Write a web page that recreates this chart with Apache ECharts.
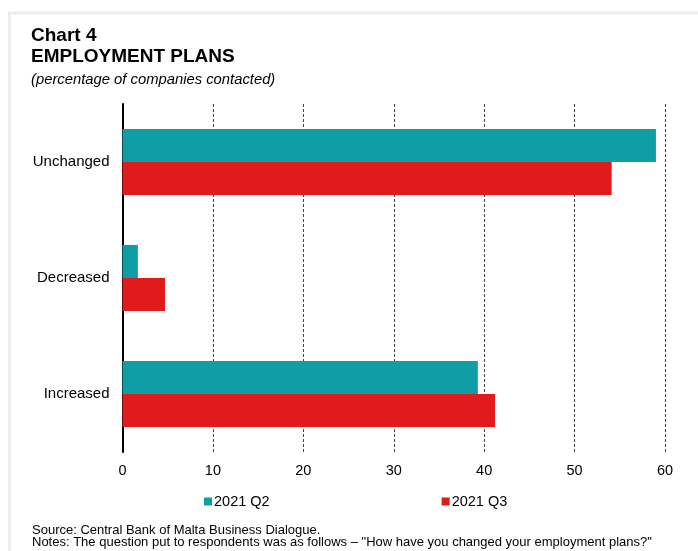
<!DOCTYPE html>
<html>
<head>
<meta charset="utf-8">
<title>Employment plans</title>
<script src="https://cdn.jsdelivr.net/npm/echarts@6/dist/echarts.min.js"></script>
<style>
  html, body { margin: 0; padding: 0; background: #fff; }
  #chart { width: 698px; height: 551px; }
</style>
</head>
<body>
<div id="chart"></div>
<script>
// Survey answers, listed bottom to top as they appear on the category axis
const categories = ['Increased', 'Decreased', 'Unchanged'];
// Share of companies contacted (%)
const q2Values = [39.3, 1.7, 59.0];
const q3Values = [41.2, 4.7, 54.1];
const seriesNames = ['2021 Q2', '2021 Q3'];
const xTicks = [0, 10, 20, 30, 40, 50, 60];

const FONT = '"Liberation Sans", Arial, Helvetica, sans-serif';

const chart = echarts.init(document.getElementById('chart'), null, { renderer: 'canvas' });

chart.setOption({
  backgroundColor: '#ffffff',
  animation: false,
  textStyle: { fontFamily: FONT, color: '#000' },
  graphic: [
    {
      // light frame around the panel
      type: 'rect',
      silent: true,
      shape: { x: 9.5, y: 13, width: 800, height: 800 },
      style: { fill: 'none', stroke: '#ebebeb', lineWidth: 3 }
    }
  ],
  title: [
    {
      text: 'Chart 4\nEMPLOYMENT PLANS',
      subtext: '(percentage of companies contacted)',
      left: 31,
      top: 25.5,
      padding: 0,
      itemGap: 4,
      textStyle: { fontFamily: FONT, fontSize: 19, fontWeight: 'bold', color: '#000', lineHeight: 21 },
      subtextStyle: { fontFamily: FONT, fontSize: 14.8, fontStyle: 'italic', color: '#000', lineHeight: 16 }
    },
    {
      text: 'Source: Central Bank of Malta Business Dialogue.\nNotes: The question put to respondents was as follows \u2013 "How have you changed your employment plans?"',
      left: 32,
      top: 524,
      padding: 0,
      textStyle: { fontFamily: FONT, fontSize: 13, fontWeight: 'normal', color: '#000', lineHeight: 12.5 }
    }
  ],
  legend: {
    data: seriesNames,
    left: 204,
    top: 494,
    padding: 0,
    itemWidth: 8,
    itemHeight: 8,
    itemGap: 172,
    icon: 'rect',
    textStyle: { fontFamily: FONT, fontSize: 14.5, color: '#000', padding: [0, 0, 0, -3] }
  },
  grid: {
    left: 122.5,
    right: 33,
    top: 104,
    bottom: 99,
    containLabel: false
  },
  xAxis: {
    type: 'value',
    min: xTicks[0],
    max: xTicks[xTicks.length - 1],
    interval: 10,
    axisLine: { show: false },
    axisTick: { show: false },
    axisLabel: { fontFamily: FONT, fontSize: 14.5, color: '#000', margin: 11 },
    splitLine: { show: true, lineStyle: { color: '#444', width: 1, type: [3, 2] } }
  },
  yAxis: {
    type: 'category',
    data: categories,
    axisLine: { show: true, lineStyle: { color: '#000', width: 2 } },
    axisTick: { show: false },
    axisLabel: { fontFamily: FONT, fontSize: 15, color: '#000', margin: 13 },
    splitLine: { show: false }
  },
  series: [
    {
      name: seriesNames[0],
      type: 'bar',
      data: q2Values,
      barGap: '0%',
      barCategoryGap: '43%',
      itemStyle: { color: '#109EA6' }
    },
    {
      name: seriesNames[1],
      type: 'bar',
      data: q3Values,
      barGap: '0%',
      barCategoryGap: '43%',
      itemStyle: { color: '#E11B1C' }
    }
  ]
});
</script>
</body>
</html>
